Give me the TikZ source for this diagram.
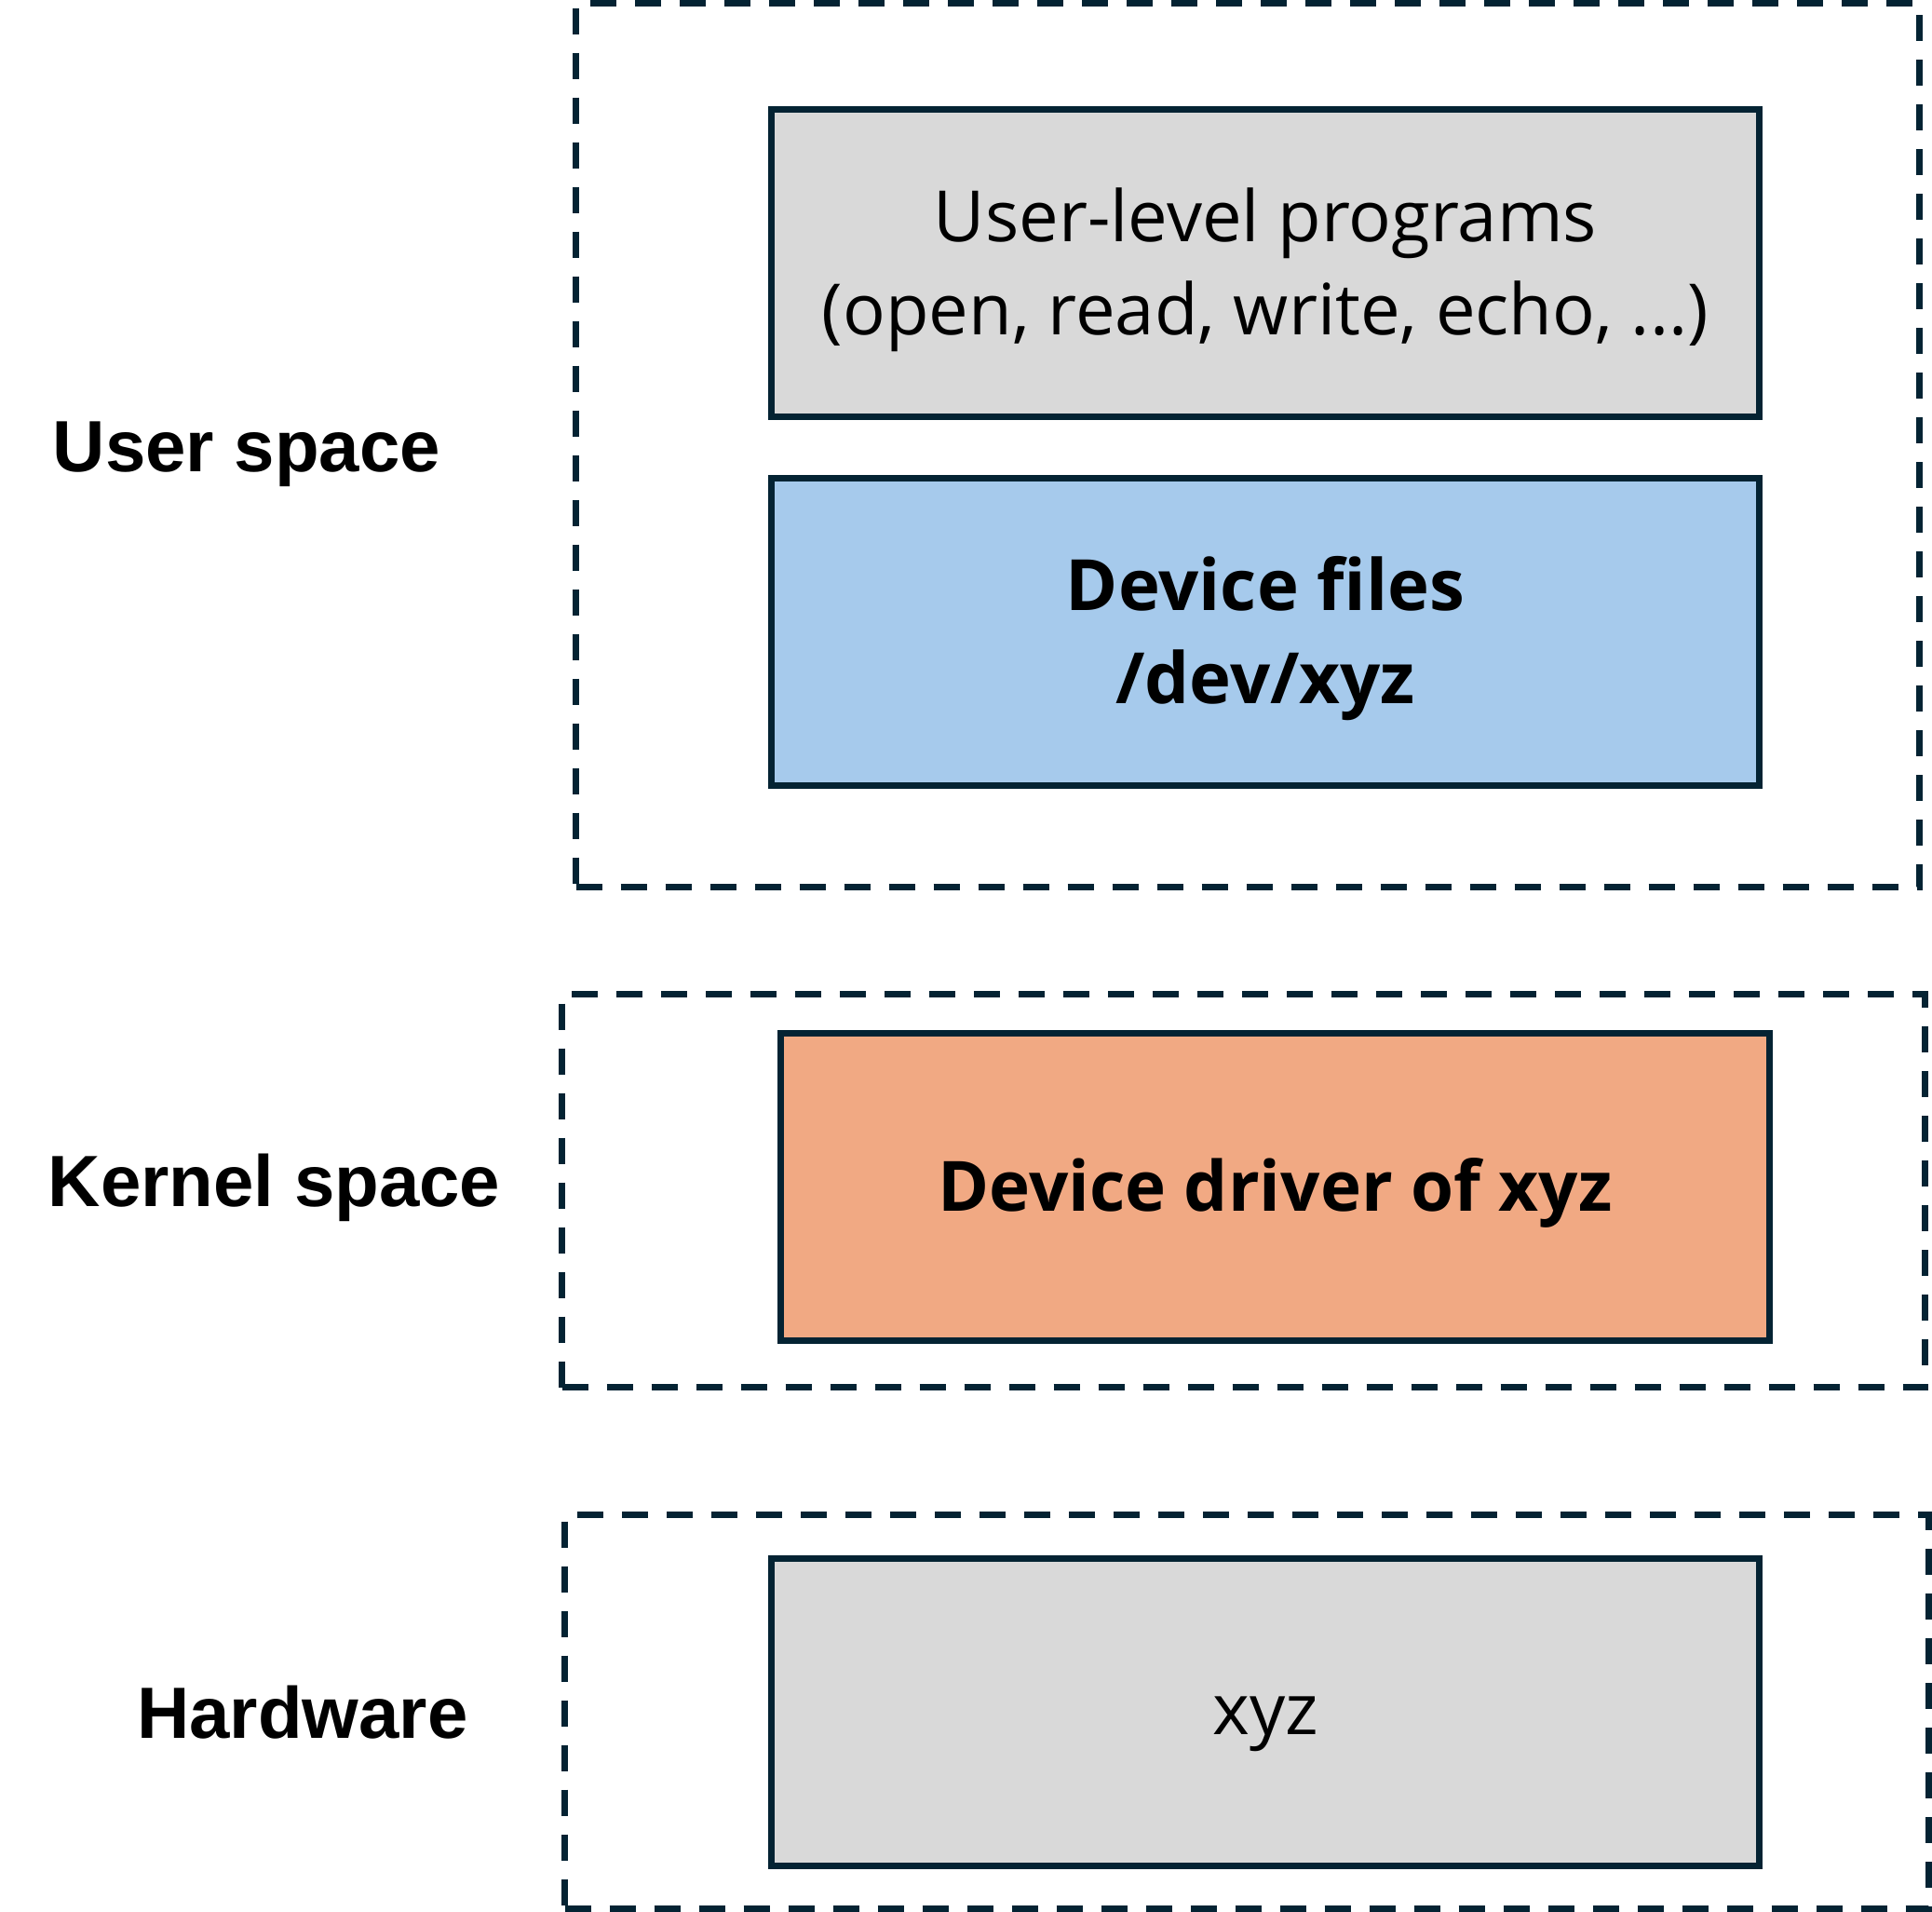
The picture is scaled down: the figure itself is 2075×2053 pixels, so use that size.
\documentclass[tikz,border=0pt]{standalone}
\usepackage{fontspec}
\setmainfont{Open Sans}
\newfontfamily\labfont{Liberation Sans}
\definecolor{edge}{RGB}{4,35,51}
\definecolor{grayfill}{RGB}{217,217,217}
\definecolor{bluefill}{RGB}{166,202,236}
\definecolor{orangefill}{RGB}{241,169,131}
\begin{document}
\begin{tikzpicture}[x=1pt,y=-1pt,
  box/.style={draw=edge,line width=7pt,minimum width=1061pt,minimum height=330pt,inner sep=0pt},
  boxtext/.style={inner sep=0pt,align=center,font=\fontsize{76}{100}\selectfont},
  boldtext/.style={boxtext,font=\fontsize{76}{100}\selectfont\bfseries},
  zone/.style={draw=edge,line width=7pt,dash pattern=on 28pt off 20pt,inner sep=0pt},
  lab/.style={font=\labfont\bfseries\fontsize{78}{90}\selectfont,inner sep=0pt,anchor=base}]
\fill[white] (0,0) rectangle (2075,2053);
\useasboundingbox (0,0) rectangle (2075,2053);
% zones
\node[zone,minimum width=1443pt,minimum height=949pt] (userzone) at (1340,478) {};
\node[zone,minimum width=1464pt,minimum height=422pt] (kernelzone) at (1335.5,1278.5) {};
\node[zone,minimum width=1465pt,minimum height=423pt] (hwzone) at (1339,1838) {};
% boxes
\node[box,fill=grayfill] (progs) at (1359,282.5) {};
\node[box,fill=bluefill] (devfiles) at (1359,678.5) {};
\node[box,fill=orangefill,minimum width=1062pt] (driver) at (1369.5,1274.5) {};
\node[box,fill=grayfill] (xyz) at (1359,1838.5) {};
% box texts
\node[boxtext] (progstext) at ([yshift=-7pt]progs.center) {User-level programs\\(open, read, write, echo, ...)};
\node[boldtext] (devfilestext) at ([yshift=-7pt]devfiles.center) {Device files\\/dev/xyz};
\node[boldtext,font=\fontsize{74.5}{100}\selectfont\bfseries] (drivertext) at ([yshift=-6pt]driver.center) {Device driver of xyz};
\node[boxtext] (xyztext) at ([yshift=-13pt]xyz.center) {xyz};
% labels
\node[lab] (userlab) at (265,506) {User space};
\node[lab] (kernellab) at (294.5,1295) {Kernel space};
\node[lab] (hwlab) at (325,1866) {Hardware};
\end{tikzpicture}
\end{document}
